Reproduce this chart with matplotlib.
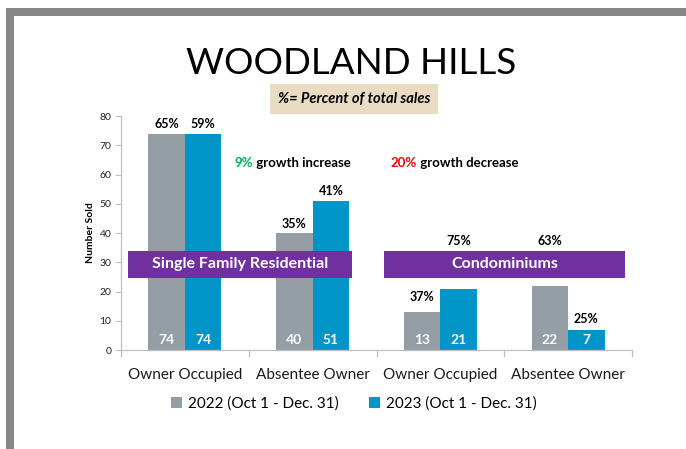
import matplotlib
matplotlib.use("Agg")
import matplotlib.pyplot as plt
from matplotlib.patches import Rectangle
import numpy as np

categories = ["Owner Occupied", "Absentee Owner", "Owner Occupied", "Absentee Owner"]
sold_2022 = [74, 40, 13, 22]
sold_2023 = [74, 51, 21, 7]
pct_2022 = ["65%", "35%", "37%", "63%"]
pct_2023 = ["59%", "41%", "75%", "25%"]
series_names = ["2022 (Oct 1 - Dec. 31)", "2023 (Oct 1 - Dec. 31)"]
group_names = ["Single Family Residential", "Condominiums"]
growth_notes = [("9%", " growth increase", "#00B050"), ("20%", " growth decrease", "#FF0000")]
yticks = [0, 10, 20, 30, 40, 50, 60, 70, 80]

FONT = "Lato"
plt.rcParams["font.family"] = [FONT, "DejaVu Sans"]

GRAY = "#959DA5"
BLUE = "#0095C6"
PURPLE = "#7030A0"

fig = plt.figure(figsize=(6.86, 4.49), dpi=100)
fig.patch.set_facecolor("white")

# gray frame bands
fig.add_artist(Rectangle((6/686, 0), 8/686, 1 - 8/449, transform=fig.transFigure, color="#878787", lw=0))
fig.add_artist(Rectangle((6/686, 1 - 16/449), 1 - 6/686, 8/449, transform=fig.transFigure, color="#878787", lw=0))

ax = fig.add_axes([121/686, 1 - 350/449, 511/686, 234/449])
x = np.arange(len(categories))
w = 0.285
b1 = ax.bar(x - w/2, sold_2022, w, color=GRAY, label=series_names[0])
b2 = ax.bar(x + w/2, sold_2023, w, color=BLUE, label=series_names[1])

ax.set_xlim(-0.5, 3.5)
ax.set_ylim(0, 80)
ax.set_yticks(yticks)
ax.set_xticks(x)
ax.set_xticklabels(categories, fontsize=11, color="#1a1a1a")
ax.tick_params(axis="x", length=0, pad=13)
ax.tick_params(axis="y", length=4, color="#BFBFBF", labelsize=7.5, pad=3, labelcolor="#222222")
for s in ["top", "right"]:
    ax.spines[s].set_visible(False)
for s in ["left", "bottom"]:
    ax.spines[s].set_color("#BFBFBF")
    ax.spines[s].set_linewidth(0.9)
# category boundary ticks on x axis
for xb in np.arange(-0.5, 4.0, 1.0):
    ax.plot([xb, xb], [0, -2.2], color="#BFBFBF", lw=0.9, clip_on=False)
ax.set_ylabel("Number Sold", fontsize=7.5, fontweight="bold", labelpad=3)

# value labels inside bars
for bars, vals in [(b1, sold_2022), (b2, sold_2023)]:
    for r, v in zip(bars, vals):
        ax.text(r.get_x() + r.get_width()/2, 3.4, str(v), ha="center", va="center",
                color="white", fontsize=10, fontweight="bold")

# percent labels
def pct_label(rect, txt, y=None, off=10):
    cx = rect.get_x() + rect.get_width()/2
    if y is None:
        ax.annotate(txt, (cx, rect.get_height()), xytext=(0, off), textcoords="offset pixels",
                    ha="center", va="center", fontsize=9, fontweight="bold")
    else:
        ax.text(cx, y, txt, ha="center", va="center", fontsize=9, fontweight="bold")

pct_label(b1[0], pct_2022[0])
pct_label(b2[0], pct_2023[0])
pct_label(b1[1], pct_2022[1], off=9)
pct_label(b2[1], pct_2023[1])
pct_label(b1[2], pct_2022[2], off=15)
pct_label(b2[2], pct_2023[2], y=37.3)
pct_label(b1[3], pct_2022[3], y=37.3)
pct_label(b2[3], pct_2023[3], off=11)

# purple group boxes
for (x0, x1), name in zip([(-0.445, 1.308), (1.559, 3.445)], group_names):
    ax.add_patch(Rectangle((x0, 24.6), x1 - x0, 9.2, color=PURPLE, clip_on=False, zorder=3, lw=0))
    ax.text((x0 + x1)/2, 29.3, name, ha="center", va="center", color="white",
            fontsize=11.5, fontweight="bold", zorder=4)

# growth notes
for xs, (p, rest, col) in zip([0.385, 1.613], growth_notes):
    t = ax.text(xs, 63.9, p, ha="left", va="center", color=col, fontsize=9.5, fontweight="bold")
    ax.annotate(rest, xy=(1, 0.5), xycoords=t, ha="left", va="center",
                fontsize=9.5, fontweight="bold", color="black")

# title and subtitle
fig.text(351/686, 1 - 74/449, "WOODLAND HILLS", ha="center", va="baseline", fontsize=26.5, color="black")
fig.text(354/686, 1 - 99/449, "%= Percent of total sales", ha="center", va="center",
         fontsize=10.5, fontweight="bold", fontstyle="italic",
         bbox=dict(boxstyle="square,pad=0.55", fc="#EADCC3", ec="none"))

leg = fig.legend(handles=[b1, b2], labels=series_names, loc="center", bbox_to_anchor=(354/686, 1 - 404/449),
                 ncol=2, frameon=False, fontsize=11, handlelength=0.7, handleheight=0.7,
                 columnspacing=2.0, handletextpad=0.4)

fig.savefig("out.png", dpi=100)
